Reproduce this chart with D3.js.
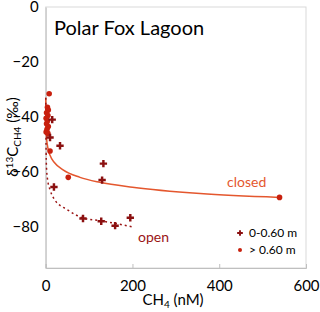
<!DOCTYPE html>
<html><head><meta charset="utf-8">
<script src="https://cdn.jsdelivr.net/npm/d3@7"></script>
<style>body{margin:0;background:#fff}svg{display:block}text{font-family:Lato,"Open Sans",sans-serif}</style>
</head><body><svg id="c" width="320" height="312"></svg>
<script>
// data
const shallow = [[15,-41],[10,-47.5],[33,-50.5],[19,-65.5],[130,-63],[133,-57],[86,-77],[128,-78],[160,-79.6],[195,-76.7]];
const deep = [[8,-31.6],[4,-36.5],[6,-37.5],[2,-38.5],[5,-39.5],[1,-40.5],[4,-41.5],[2,-42.5],[6,-43.5],[3,-44.5],[1,-45.5],[5,-46],[10,-52.4],[52,-62],[539,-69.3]];
const closedCurve = [[0.1,-33],[0.5,-42],[1,-45],[2,-47.7],[5,-51.3],[10,-54],[20,-56.6],[40,-59.3],[79,-62],[125,-63.8],[200,-65.6],[356,-67.9],[539,-69.3]];
const openCurve = [[0.2,-33],[0.5,-45],[1,-53],[2,-59],[5,-63.5],[10,-66.5],[20,-70],[50,-73.8],[86,-76.8],[125,-77.8],[165,-78.9],[199,-80]];
const xTicks = [0,200,400,600];
const yTicks = [0,-20,-40,-60,-80];
const legendLabels = ["0-0.60 m","> 0.60 m"];

const svg = d3.select("#c");
const L=45.7,R=306,T=7,B=268;
const x = d3.scaleLinear().domain([0,600]).range([L,R]);
const y = d3.scaleLinear().domain([-95,0]).range([B,T]);
const cShallow="#8B1010", cDeep="#C8200E", cClosed="#E4572E", cOpen="#9A1414";

// frame
svg.append("rect").attr("x",L).attr("y",T).attr("width",R-L).attr("height",B-T).attr("fill","none").attr("stroke","#D9D9D9");
// axes
const xa = svg.append("g").attr("transform",`translate(0,${B})`).call(d3.axisBottom(x).tickValues(xTicks).tickSize(-4).tickPadding(12));
xa.select(".domain").attr("stroke","#BFBFBF");
xa.selectAll(".tick line").attr("stroke","#BFBFBF");
xa.selectAll("text").attr("font-size",15).attr("fill","#000");
const ya = svg.append("g").attr("transform",`translate(${L},0)`).call(d3.axisLeft(y).tickValues(yTicks).tickSize(0).tickPadding(7));
ya.select(".domain").attr("stroke","#BFBFBF");
ya.selectAll("text").attr("font-size",15).attr("fill","#000");

// curves
const line = d3.line().x(d=>x(d[0])).y(d=>y(d[1])).curve(d3.curveMonotoneX);
svg.append("path").attr("d",line(closedCurve)).attr("fill","none").attr("stroke",cClosed).attr("stroke-width",1.5);
svg.append("path").attr("d",line(openCurve)).attr("fill","none").attr("stroke",cOpen).attr("stroke-width",1.5).attr("stroke-dasharray","2,3");

// points
svg.append("g").selectAll("circle").data(deep).join("circle")
  .attr("cx",d=>x(d[0])).attr("cy",d=>y(d[1])).attr("r",2.8).attr("fill",cDeep);
const cross = d3.symbol().type(d3.symbolCross).size(30);
svg.append("g").selectAll("path").data(shallow).join("path")
  .attr("d",cross).attr("transform",d=>`translate(${x(d[0])},${y(d[1])})`).attr("fill",cShallow);

// labels
svg.append("text").attr("x",54).attr("y",35).attr("font-size",20).text("Polar Fox Lagoon");
svg.append("text").attr("x",227).attr("y",187).attr("font-size",14).attr("fill",cClosed).text("closed");
svg.append("text").attr("x",138).attr("y",242).attr("font-size",14).attr("fill",cOpen).text("open");

// legend
svg.append("path").attr("d",d3.symbol().type(d3.symbolCross).size(18)).attr("transform","translate(240,233)").attr("fill",cShallow);
svg.append("circle").attr("cx",240).attr("cy",250).attr("r",2).attr("fill",cDeep);
svg.append("text").attr("x",249).attr("y",237).attr("font-size",12).text(legendLabels[0]);
svg.append("text").attr("x",249).attr("y",254).attr("font-size",12).text(legendLabels[1]);

// axis titles
const xt = svg.append("text").attr("x",173).attr("y",305).attr("font-size",15).attr("text-anchor","middle");
xt.append("tspan").text("CH");
xt.append("tspan").attr("font-size",10).attr("dy",3).text("4");
xt.append("tspan").attr("dy",-3).text(" (nM)");
const yt = svg.append("text").attr("transform","translate(18,137) rotate(-90)").attr("font-size",15).attr("text-anchor","middle");
yt.append("tspan").text("δ");
yt.append("tspan").attr("font-size",10).attr("dy",-5).text("13");
yt.append("tspan").attr("dy",5).text("C");
yt.append("tspan").attr("font-size",10).attr("dy",3).text("CH4");
yt.append("tspan").attr("dy",-3).text(" (‰)");
</script></body></html>
